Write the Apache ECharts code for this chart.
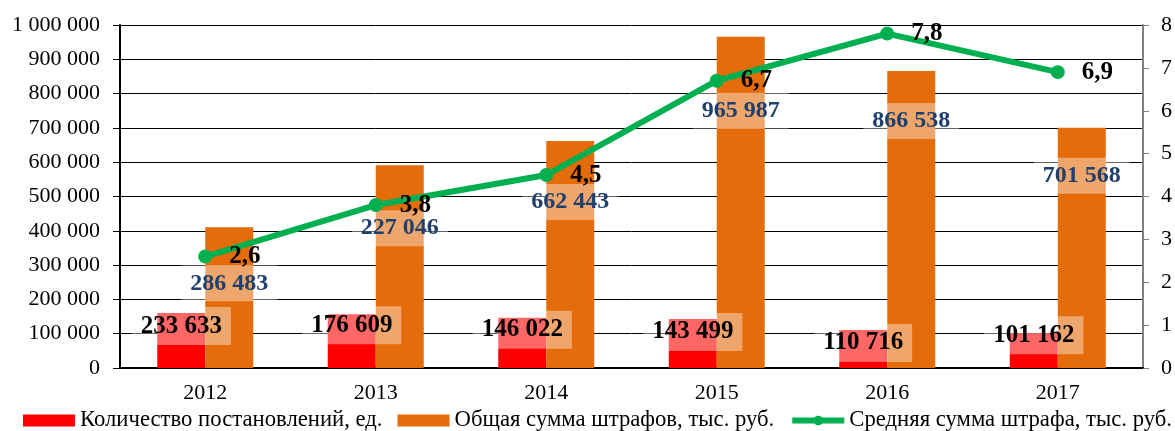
<!DOCTYPE html>
<html>
<head>
<meta charset="utf-8">
<script src="https://cdn.jsdelivr.net/npm/echarts@6/dist/echarts.min.js"></script>
<style>
  html, body { margin: 0; padding: 0; background: #fff; }
  #chart { width: 1175px; height: 431px; }
</style>
</head>
<body>
<div id="chart"></div>
<script>
// годы
var years = ['2012', '2013', '2014', '2015', '2016', '2017'];
// высоты столбцов, как нарисованы
var countValues = [160000, 156500, 146700, 142900, 110800, 101200];
var sumValues = [410000, 591000, 662000, 966000, 866000, 700600];
// подписи столбцов, как написаны
var countLabels = ['233 633', '176 609', '146 022', '143 499', '110 716', '101 162'];
var sumLabels = ['286 483', '227 046', '662 443', '965 987', '866 538', '701 568'];
// средняя сумма штрафа
var avgValues = [2.6, 3.8, 4.5, 6.7, 7.8, 6.9];

// ручные сдвиги подписей по вертикали, px (как в исходнике)
var countLabelNudge = [0, -2, -1, 0, 0, -11];
var sumLabelNudge = [-2, 5, 3, 16, -8, -10];

var font = "'Liberation Serif', 'Times New Roman', serif";

function spaced(v) {
    return String(v).replace(/\B(?=(\d{3})+(?!\d))/g, ' ');
}

function withNudge(values, nudge, baseOffset) {
    return values.map(function(v, i) {
        return {value: v, label: {offset: [0, baseOffset + nudge[i]]}};
    });
}

var chart = echarts.init(document.getElementById('chart'));

chart.setOption({
    animation: false,
    textStyle: {fontFamily: font},
    grid: {left: 120, right: 31, top: 25, bottom: 63},
    legend: {
        left: 23,
        top: 409,
        padding: 0,
        itemWidth: 52,
        itemHeight: 12,
        itemGap: 15,
        textStyle: {fontFamily: font, fontSize: 22.7, color: '#000'},
        data: [
            {name: 'Количество постановлений, ед.', icon: 'rect'},
            {name: 'Общая сумма штрафов, тыс. руб.', icon: 'rect'},
            {name: 'Средняя сумма штрафа, тыс. руб.', lineStyle: {width: 6}}
        ]
    },
    xAxis: [
        {
            type: 'category',
            data: years,
            axisLine: {lineStyle: {color: '#000', width: 2}},
            axisTick: {length: 7, lineStyle: {color: '#000', width: 1}},
            axisLabel: {fontFamily: font, fontSize: 22, color: '#000', margin: 14}
        },
        {
            // верхняя рамка
            type: 'category',
            data: years,
            position: 'top',
            axisLine: {lineStyle: {color: '#000', width: 2}},
            axisTick: {show: false},
            axisLabel: {show: false}
        }
    ],
    yAxis: [
        {
            type: 'value',
            min: 0,
            max: 1000000,
            interval: 100000,
            axisLine: {show: true, lineStyle: {color: '#000', width: 2}},
            axisTick: {show: true, length: 7, lineStyle: {color: '#000'}},
            splitLine: {lineStyle: {color: '#000', width: 1}},
            axisLabel: {
                fontFamily: font, fontSize: 22, color: '#000', margin: 20,
                formatter: spaced
            }
        },
        {
            type: 'value',
            min: 0,
            max: 8,
            interval: 1,
            position: 'right',
            axisLine: {show: true, lineStyle: {color: '#808080', width: 2}},
            axisTick: {show: true, length: 6, lineStyle: {color: '#808080'}},
            splitLine: {show: false},
            axisLabel: {fontFamily: font, fontSize: 22, color: '#000', margin: 18}
        }
    ],
    series: [
        {
            name: 'Количество постановлений, ед.',
            type: 'bar',
            data: withNudge(countValues, countLabelNudge, -6),
            barWidth: 48,
            barGap: '0%',
            itemStyle: {color: '#FF0000'},
            label: {
                show: true,
                position: 'insideTop',
                distance: 0,
                formatter: function(p) { return countLabels[p.dataIndex]; },
                fontFamily: font,
                fontSize: 25,
                fontWeight: 'bold',
                color: '#000',
                backgroundColor: 'rgba(255,255,255,0.4)',
                padding: [6, 9],
                lineHeight: 26
            }
        },
        {
            name: 'Общая сумма штрафов, тыс. руб.',
            type: 'bar',
            data: withNudge(sumValues, sumLabelNudge, 0),
            barWidth: 48,
            barGap: '0%',
            itemStyle: {color: '#E46C0A'},
            label: {
                show: true,
                position: 'insideTop',
                distance: 40,
                formatter: function(p) { return sumLabels[p.dataIndex]; },
                fontFamily: font,
                fontSize: 24,
                fontWeight: 'bold',
                color: '#1F3F6E',
                backgroundColor: 'rgba(255,255,255,0.4)',
                padding: [6, 9],
                lineHeight: 24
            }
        },
        {
            name: 'Средняя сумма штрафа, тыс. руб.',
            type: 'line',
            yAxisIndex: 1,
            data: avgValues,
            symbol: 'circle',
            symbolSize: 14,
            itemStyle: {color: '#00B050'},
            lineStyle: {color: '#00B050', width: 6},
            label: {
                show: true,
                position: 'right',
                distance: 17,
                formatter: function(p) { return String(p.value).replace('.', ','); },
                fontFamily: font,
                fontSize: 25,
                fontWeight: 'bold',
                color: '#000'
            }
        }
    ]
});
</script>
</body>
</html>
